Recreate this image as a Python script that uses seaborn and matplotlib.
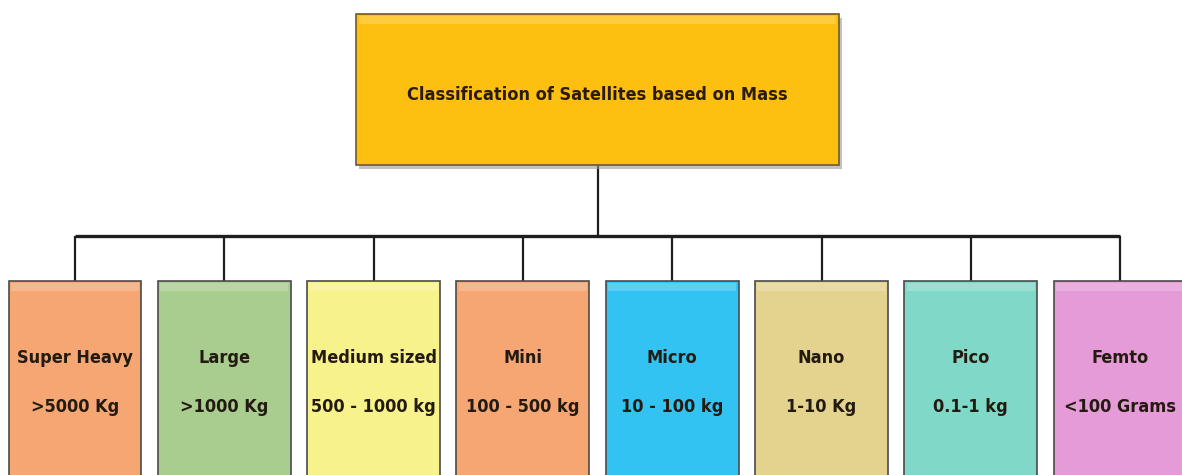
import matplotlib
matplotlib.use("Agg")
import pandas as pd
import matplotlib.pyplot as plt
import seaborn as sns
from matplotlib.patches import Rectangle

title = "Classification of Satellites based on Mass"
classes = ["Super Heavy", "Large", "Medium sized", "Mini",
           "Micro", "Nano", "Pico", "Femto"]
mass_ranges = [">5000 Kg", ">1000 Kg", "500 - 1000 kg", "100 - 500 kg",
               "10 - 100 kg", "1-10 Kg", "0.1-1 kg", "<100 Grams"]
box_colors = ["#F5A673", "#A9CD8F", "#F7F28C", "#F5A673",
              "#33C3F3", "#E3D38F", "#80D9C8", "#E59BD8"]
title_color = "#FDC010"

sns.set_theme(style="white")
plt.rcParams["font.family"] = ["DejaVu Sans"]
plt.rcParams["font.stretch"] = "condensed"

W, H = 1182, 475
fig = plt.figure(figsize=(W / 100, H / 100), dpi=100)

# x axis in category slots (~149 px each), y axis in pixels from the top
slot = 149.3
left = 75 - slot / 2
ax = fig.add_axes([left / W, 0, 8 * slot / W, 1])

df = pd.DataFrame({"cls": classes, "depth": [200] * len(classes)})
sns.barplot(data=df, x="cls", y="depth", hue="cls", palette=box_colors,
            saturation=1, bottom=281, width=0.89, edgecolor="#4a4a4a",
            linewidth=1.2, errorbar=None, legend=False, ax=ax, zorder=3)
ax.set_xlim(-0.5, 7.5)
ax.set_ylim(H, 0)
ax.axis("off")

# light bevel strip on top of each box
for i in range(len(classes)):
    ax.add_patch(Rectangle((i - 0.43, 283), 0.86, 8, facecolor="white",
                           edgecolor="none", alpha=0.2, zorder=4))

# title box with a soft shadow
ax.add_patch(Rectangle((1.90, 18), 3.24, 151, facecolor="#9a9a9a",
                       edgecolor="none", alpha=0.6, zorder=2))
ax.add_patch(Rectangle((1.88, 14), 3.24, 151, facecolor=title_color,
                       edgecolor="#6b5a30", linewidth=1.2, zorder=3))
ax.add_patch(Rectangle((1.90, 16), 3.20, 8, facecolor="white",
                       edgecolor="none", alpha=0.2, zorder=4))
ax.text(3.5, 95, title, ha="center", va="center", fontsize=13,
        fontweight="bold", color="#2a1c0c", zorder=5)

# connectors
line_kw = dict(color="#1e1e1e", zorder=1, solid_capstyle="butt")
ax.plot([3.5, 3.5], [165, 236], lw=1.6, **line_kw)
ax.plot([0, 7], [236, 236], lw=2.4, **line_kw)
for i in range(len(classes)):
    ax.plot([i, i], [236, 281], lw=1.6, **line_kw)

for i, (name, rng) in enumerate(zip(classes, mass_ranges)):
    ax.text(i, 358, name, ha="center", va="center", fontsize=13,
            fontweight="bold", color="#231a10", zorder=5)
    ax.text(i, 407, rng, ha="center", va="center", fontsize=13,
            fontweight="bold", color="#231a10", zorder=5)

fig.savefig("out.png", dpi=100)
